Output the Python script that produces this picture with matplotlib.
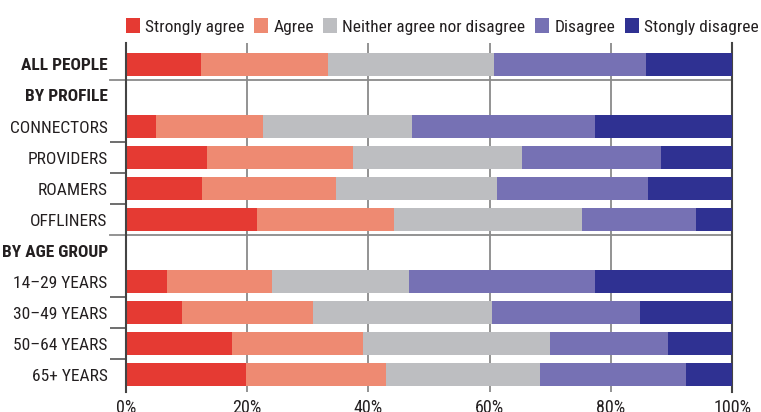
import matplotlib.pyplot as plt
from matplotlib.patches import Patch
from matplotlib import font_manager

# rows top to bottom; None marks a group heading with no bar
rows = ["ALL PEOPLE", "BY PROFILE", "CONNECTORS", "PROVIDERS", "ROAMERS",
        "OFFLINERS", "BY AGE GROUP", "14–29 YEARS", "30–49 YEARS",
        "50–64 YEARS", "65+ YEARS"]
headings = ["ALL PEOPLE", "BY PROFILE", "BY AGE GROUP"]

categories = ["Strongly agree", "Agree", "Neither agree nor disagree",
              "Disagree", "Stongly disagree"]
colors = ["#e53a33", "#ee8a72", "#bdbec1", "#7671b4", "#2f3192"]

# share of respondents (%) per answer, one list per row
strongly_agree = [12.4, None, 5.0, 13.4, 12.6, 21.7, None, 6.8, 9.3, 17.5, 19.9]
agree = [21.0, None, 17.7, 24.0, 22.0, 22.5, None, 17.3, 21.6, 21.6, 23.0]
neutral = [27.3, None, 24.5, 27.9, 26.6, 31.0, None, 22.6, 29.5, 30.8, 25.4]
disagree = [25.1, None, 30.1, 22.9, 24.9, 18.8, None, 30.6, 24.4, 19.5, 24.0]
strongly_disagree = [14.2, None, 22.7, 11.8, 13.9, 6.0, None, 22.7, 15.2, 10.6, 7.7]

series = [strongly_agree, agree, neutral, disagree, strongly_disagree]

# pick a condensed face if one is installed
names = {f.name for f in font_manager.fontManager.ttflist}
family = "DejaVu Sans"
for cand in ["Roboto Condensed", "Barlow Semi Condensed", "Archivo Narrow",
             "IBM Plex Sans Condensed", "Liberation Sans Narrow"]:
    if cand in names:
        family = cand
        break
plt.rcParams["font.family"] = [family, "DejaVu Sans"]
text_color = "#231f20"
fs = 12.5

fig = plt.figure(figsize=(7.61, 4.12), dpi=100)
ax = fig.add_axes([125.7 / 761, 20 / 412, 606.6 / 761, 349 / 412])

left = [0.0] * len(rows)
for vals, col in zip(series, colors):
    for i, v in enumerate(vals):
        if v is None:
            continue
        ax.barh(i, v, left=left[i], height=0.74, color=col, linewidth=0, zorder=3)
        left[i] += v

ax.set_xlim(0, 100)
ax.set_ylim(10.55, -0.69)

ax.set_xticks([0, 20, 40, 60, 80, 100])
ax.set_xticklabels(["0%", "20%", "40%", "60%", "80%", "100%"])
ax.tick_params(axis="x", length=0, pad=5, labelsize=13, colors=text_color)
for x in [20, 40, 60, 80]:
    ax.axvline(x, color="#8a8a8a", lw=1.3, zorder=1)

ax.set_yticks(range(len(rows)))
ax.set_yticklabels(rows)
ax.tick_params(axis="y", which="major", length=0, pad=13, labelsize=fs,
               colors=text_color)
for lab in ax.get_yticklabels():
    if lab.get_text() in headings:
        lab.set_fontweight("bold")

# short ticks between rows inside each group
ax.set_yticks([2.5, 3.5, 4.5, 7.5, 8.5, 9.5], minor=True)
ax.tick_params(axis="y", which="minor", length=11.5, width=1.2, color="#555555")

# group separators reach out past the axis
for y in [0.5, 5.5]:
    ax.plot([-2.6, 100], [y, y], color="#8a8a8a", lw=1.3, clip_on=False, zorder=1)

for side in ["top", "bottom"]:
    ax.spines[side].set_visible(False)
ax.spines["left"].set_color("#444444")
ax.spines["left"].set_linewidth(1.5)
ax.spines["left"].set_zorder(4)
ax.spines["right"].set_color("#444444")
ax.spines["right"].set_linewidth(1.5)

handles = [Patch(facecolor=c, edgecolor="none") for c in colors]
fig.legend(handles, categories, loc="upper left",
           bbox_to_anchor=(119 / 761, 1 - 11 / 412), ncol=5, frameon=False,
           fontsize=fs, handlelength=0.8, handleheight=1.0,
           handletextpad=0.3, columnspacing=0.55, labelcolor=text_color,
           borderaxespad=0)

fig.savefig("out.png", dpi=100)
